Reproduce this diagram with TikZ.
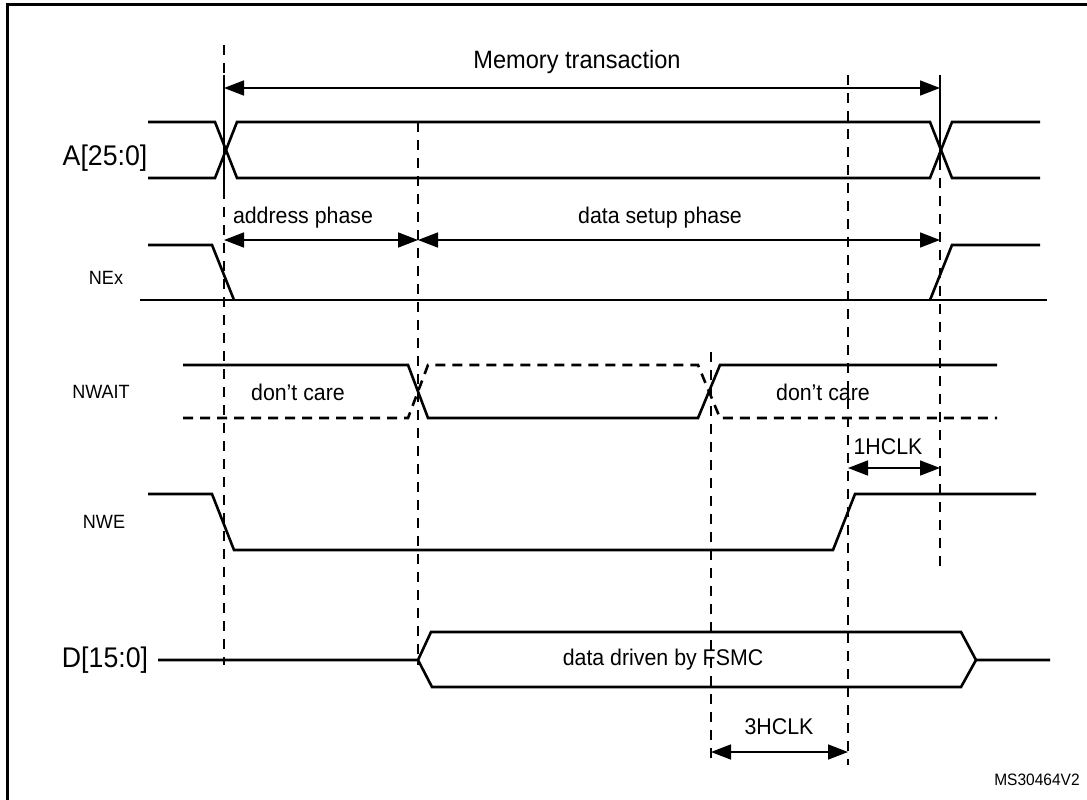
\documentclass[tikz,border=0pt]{standalone}
\usepackage{fontspec}
\setmainfont{Liberation Sans}[FakeStretch=0.94]
\usetikzlibrary{arrows.meta}
\begin{document}
\begin{tikzpicture}[x=1pt, y=-1pt,
  sig/.style={line width=2.6pt, line join=miter},
  dontcare/.style={line width=2.6pt, dash pattern=on 10pt off 7pt},
  guide/.style={line width=1.3pt, dash pattern=on 10pt off 8pt},
  span/.style={line width=1.6pt, {Triangle[length=20pt,width=15pt]}-{Triangle[length=20pt,width=15pt]}},
  biglabel/.style={font=\fontsize{28.4}{32}\selectfont},
  siglabel/.style={font=\fontsize{19.2}{23}\selectfont},
  midlabel/.style={font=\fontsize{22.7}{27}\selectfont}]
  \useasboundingbox (0,0) rectangle (1087,800);
  \draw[line width=3pt] (7,800) -- (7,5) -- (1087,5);

  % guide lines
  \coordinate (g1t) at (224,45);  \coordinate (g1b) at (224,665);
  \coordinate (g2t) at (418,122); \coordinate (g2b) at (418,665);
  \coordinate (g3t) at (711,352); \coordinate (g3b) at (711,765);
  \coordinate (g4t) at (848,75);  \coordinate (g4b) at (848,765);
  \coordinate (g5t) at (940,160); \coordinate (g5b) at (940,572);
  \draw[guide] (g1t) -- (g1b);
  \draw[guide] (g2t) -- (g2b);
  \draw[guide] (g3t) -- (g3b);
  \draw[guide] (g4t) -- (g4b);
  \draw[guide] (g5t) -- (g5b);
  \draw[line width=1.3pt] (224,75) -- (224,192);
  \draw[line width=1.3pt] (940,75) -- (g5t);

  % memory transaction
  \node[font=\fontsize{25.1}{29}\selectfont] (memtrans) at (577,62) {Memory transaction};
  \coordinate (mt-l) at (224,88); \coordinate (mt-r) at (940,88);
  \draw[span] (mt-l) -- (mt-r);

  % A[25:0]
  \node[biglabel] (addr) at (105,158) {A[25:0]};
  \draw[sig] (148,122) -- (215,122) -- (237,178) -- (930,178) -- (952,122) -- (1040,122);
  \draw[sig] (148,178) -- (215,178) -- (237,122) -- (930,122) -- (952,178) -- (1040,178);

  % phases
  \node[midlabel] (addrph) at (303,218) {address phase};
  \node[midlabel] (setupph) at (660,218) {data setup phase};
  \coordinate (ph-a) at (224,240); \coordinate (ph-b) at (418,240); \coordinate (ph-c) at (940,240);
  \draw[span] (ph-a) -- (ph-b);
  \draw[span] (ph-b) -- (ph-c);

  % NEx
  \node[siglabel] (nex) at (106,278) {NEx};
  \draw[sig] (148,245) -- (212,245) -- (234,300);
  \draw[sig] (140,300) -- (1047,300);
  \draw[sig] (930,300) -- (952,245) -- (1040,245);

  % NWAIT
  \node[siglabel] (nwait) at (101,392) {NWAIT};
  \draw[sig] (183,365) -- (408,365) -- (428,418) -- (698,418) -- (720,365) -- (997,365);
  \draw[dontcare] (183,418) -- (408,418) -- (428,365) -- (698,365) -- (720,418) -- (997,418);
  \node[midlabel] (dc1) at (298,392) {don’t care};
  \node[midlabel] (dc2) at (823,392) {don’t care};

  % 1HCLK
  \node[midlabel] (hclk1) at (888,447) {1HCLK};
  \coordinate (h1-l) at (848,468); \coordinate (h1-r) at (940,468);
  \draw[span] (h1-l) -- (h1-r);

  % NWE
  \node[siglabel] (nwe) at (104,522) {NWE};
  \draw[sig] (148,494) -- (212,494) -- (234,550) -- (833,550) -- (855,494) -- (1036,494);

  % D[15:0]
  \node[biglabel] (data) at (105,660) {D[15:0]};
  \draw[sig] (158,660) -- (418,660) -- (431,632) -- (961,632) -- (976,660) -- (1050,660);
  \draw[sig] (418,660) -- (432,687) -- (961,687) -- (976,660);
  \node[midlabel] (drive) at (663,660) {data driven by FSMC};

  % 3HCLK
  \node[midlabel] (hclk3) at (779,727) {3HCLK};
  \coordinate (h3-l) at (711,752); \coordinate (h3-r) at (848,752);
  \draw[span] (h3-l) -- (h3-r);

  \node[font=\fontsize{16.5}{20}\selectfont] (msid) at (1037,780) {MS30464V2};
\end{tikzpicture}
\end{document}
